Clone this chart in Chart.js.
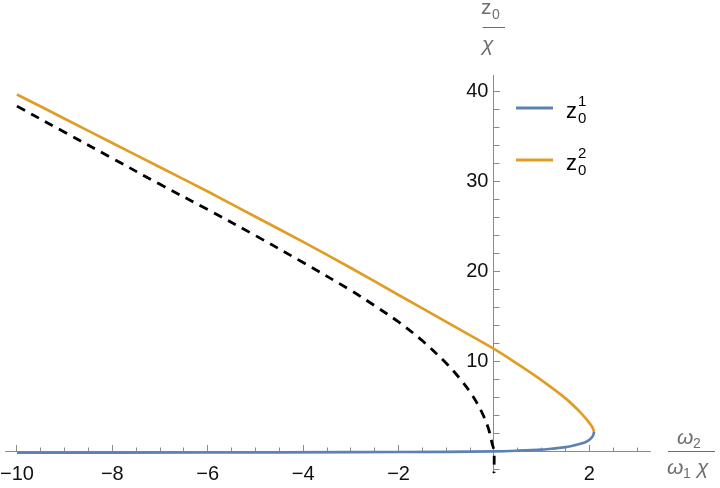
<!DOCTYPE html>
<html>
<head>
<meta charset="utf-8">
<script src="https://cdn.jsdelivr.net/npm/chart.js@4.4.0/dist/chart.umd.min.js"></script>
<style>
  html, body { margin: 0; padding: 0; background: #fff; }
  #wrap { width: 720px; height: 488px; }
</style>
</head>
<body>
<div id="wrap"><canvas id="plot" width="720" height="488"></canvas></div>
<script>
// values
var blueX = [-10, -6, -3, -1, 0, 0.5, 1.0, 1.2, 1.5, 1.7, 1.9, 2.0, 2.07, 2.1];
var blueY = [-0.15, -0.12, -0.08, -0.04, 0, 0.08, 0.2, 0.3, 0.47, 0.7, 1.0, 1.3, 1.7, 2.2];

var orangeX = [-10, -9, -8, -7, -6, -5, -4, -3, -2, -1, 0, 0.5, 1.0, 1.5, 1.8, 1.95, 2.05, 2.1];
var orangeY = [39.7, 37.0, 34.3, 31.6, 28.9, 26.1, 23.3, 20.4, 17.4, 14.4, 11.4, 9.7, 7.9, 5.9, 4.4, 3.5, 2.8, 2.2];

var dashX = [-10, -9, -8, -7, -6, -5, -4, -3, -2.5, -2, -1.5, -1, -0.7, -0.45, -0.25, -0.12, -0.04, 0, 0];
var dashY = [38.4, 35.5, 32.6, 29.7, 26.9, 24.0, 21.0, 17.9, 16.2, 14.4, 12.3, 9.8, 8.0, 6.2, 4.3, 2.6, 0.9, 0, -2.4];

var xMajorTicks = [-10, -8, -6, -4, -2, 2];   // 0 is left out where the axes cross
var yMajorTicks = [10, 20, 30, 40];

var blueCol = '#5e81b5';
var orangeCol = '#e19c24';
var axisCol = '#8a8a8a';
var titleCol = '#6e6e6e';
var font = '"Liberation Sans", Arial, sans-serif';

function pts(xs, ys) {
  return xs.map(function (x, i) { return { x: x, y: ys[i] }; });
}

function fmt(v) {
  if (v < 0) return '\u2212' + (-v);
  return '' + v;
}

function noPad(scale) {
  scale.paddingLeft = 0; scale.paddingRight = 0;
  scale.paddingTop = 0; scale.paddingBottom = 0;
}

var labelsPlugin = {
  id: 'mmaLabels',
  afterDraw: function (chart) {
    var ctx = chart.ctx;
    ctx.save();
    ctx.textBaseline = 'alphabetic';
    ctx.textAlign = 'left';
    ctx.fillStyle = titleCol;
    ctx.strokeStyle = titleCol;
    ctx.lineWidth = 1;

    // vertical axis title  z0 / chi
    ctx.font = '21px ' + font;
    ctx.fillText('z', 481, 14);
    ctx.font = '14px ' + font;
    ctx.fillText('0', 492, 19);
    ctx.beginPath(); ctx.moveTo(482.5, 27.5); ctx.lineTo(505, 27.5); ctx.stroke();
    ctx.font = 'italic 21px ' + font;
    ctx.fillText('\u03c7', 482, 51);

    // horizontal axis title  omega2 / (omega1 chi)
    ctx.font = 'italic 21px ' + font;
    ctx.fillText('\u03c9', 677, 444);
    ctx.font = '14px ' + font;
    ctx.fillText('2', 693, 448);
    ctx.beginPath(); ctx.moveTo(668, 451.5); ctx.lineTo(715, 451.5); ctx.stroke();
    ctx.font = 'italic 21px ' + font;
    ctx.fillText('\u03c9', 667, 474);
    ctx.fillText('\u03c7', 697, 474);
    ctx.font = '14px ' + font;
    ctx.fillText('1', 683, 478);

    // legend
    var rows = [[blueCol, '1', 108], [orangeCol, '2', 160]];
    rows.forEach(function (r) {
      ctx.strokeStyle = r[0];
      ctx.lineWidth = 3;
      ctx.beginPath(); ctx.moveTo(516, r[2]); ctx.lineTo(553, r[2]); ctx.stroke();
      ctx.fillStyle = '#000';
      ctx.font = '22px ' + font;
      ctx.fillText('z', 566, r[2] + 10);
      ctx.font = '15px ' + font;
      ctx.fillText(r[1], 578, r[2] - 2);
      ctx.fillText('0', 578, r[2] + 15);
    });
    ctx.restore();
  }
};

var tickFont = { family: font, size: 20 };

new Chart(document.getElementById('plot'), {
  type: 'scatter',
  data: {
    datasets: [
      { label: 'z01', data: pts(blueX, blueY), borderColor: blueCol, borderWidth: 2.7 },
      { label: 'z02', data: pts(orangeX, orangeY), borderColor: orangeCol, borderWidth: 2.7 },
      { label: 'dashed', data: pts(dashX, dashY), borderColor: '#000', borderWidth: 2.8, borderDash: [9, 7] }
    ]
  },
  options: {
    responsive: false,
    animation: false,
    showLine: true,
    elements: { point: { radius: 0 }, line: { tension: 0.35, fill: false } },
    layout: { padding: { left: 5, right: 70, top: 75, bottom: 15 } },
    plugins: { legend: { display: false }, tooltip: { enabled: false } },
    scales: {
      x: {
        type: 'linear', axis: 'x', position: { y: 0 },
        min: -10.25, max: 3.27,
        afterFit: noPad,
        afterBuildTicks: function (s) { s.ticks = xMajorTicks.map(function (v) { return { value: v }; }); },
        ticks: { autoSkip: false, maxRotation: 0, padding: 18, color: '#111', font: tickFont, callback: fmt },
        grid: { drawOnChartArea: false, tickLength: -7, tickColor: axisCol },
        border: { color: axisCol, width: 1 }
      },
      xMinor: {
        type: 'linear', axis: 'x', position: { y: 0 },
        min: -10.25, max: 3.27,
        afterFit: noPad,
        ticks: { stepSize: 0.5, includeBounds: false, autoSkip: false, display: false },
        grid: { drawOnChartArea: false, tickLength: -3.5, tickColor: axisCol },
        border: { display: false }
      },
      y: {
        type: 'linear', axis: 'y', position: { x: 0 },
        min: -2.4, max: 41.86,
        afterFit: noPad,
        afterBuildTicks: function (s) { s.ticks = yMajorTicks.map(function (v) { return { value: v }; }); },
        ticks: { autoSkip: false, color: '#111', font: tickFont,
                 callback: function (v) { return fmt(v) + ' '; } },
        grid: { drawOnChartArea: false, tickLength: -7, tickColor: axisCol },
        border: { color: axisCol, width: 1 }
      },
      yMinor: {
        type: 'linear', axis: 'y', position: { x: 0 },
        min: -2.4, max: 41.86,
        afterFit: noPad,
        ticks: { stepSize: 2, includeBounds: false, autoSkip: false, display: false },
        grid: { drawOnChartArea: false, tickLength: -5.5, tickColor: axisCol },
        border: { display: false }
      }
    }
  },
  plugins: [labelsPlugin]
});
</script>
</body>
</html>
